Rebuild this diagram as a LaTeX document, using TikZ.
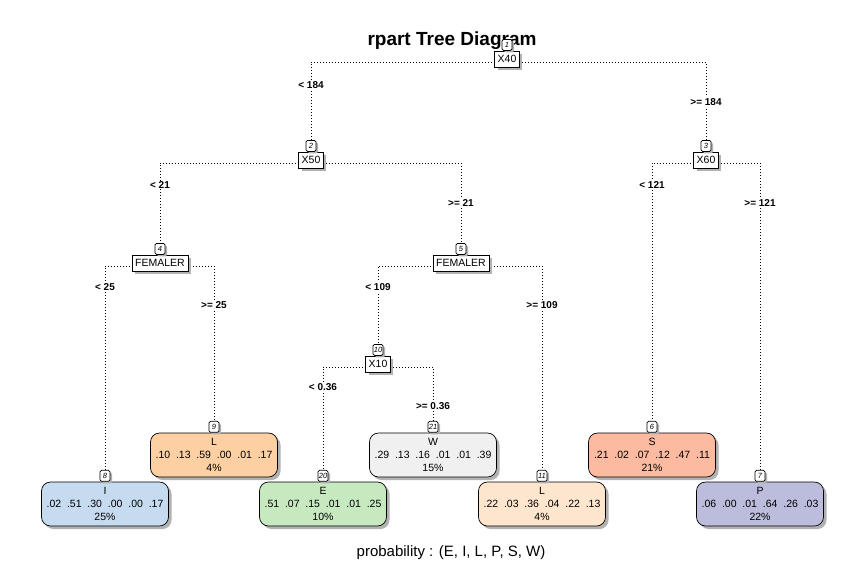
\documentclass[tikz,border=0pt]{standalone}
\usepackage{fontspec}
\setmainfont{Liberation Sans}
\usetikzlibrary{positioning, shadows, backgrounds}

\definecolor{leafI}{RGB}{198,219,239}
\definecolor{leafL}{RGB}{252,208,162}
\definecolor{leafLL}{RGB}{254,230,206}
\definecolor{leafE}{RGB}{199,233,192}
\definecolor{leafW}{RGB}{240,240,240}
\definecolor{leafS}{RGB}{252,187,161}
\definecolor{leafP}{RGB}{188,189,220}

\begin{document}
\begin{tikzpicture}[x=1pt, y=-1pt,
    shade/.style={drop shadow={shadow xshift=3pt, shadow yshift=-3pt, fill=black!30, opacity=1}},
    split/.style={draw, fill=white, shade, inner xsep=3pt, inner ysep=2pt, minimum height=16pt, font=\fontsize{10.5}{12}\selectfont},
    leaf/.style={draw, line width=0.7pt, shade, rounded corners=9pt, minimum width=127pt, minimum height=44pt, inner sep=1pt, align=center, font=\fontsize{10.5}{13}\selectfont},
    nid/.style={draw, line width=0.7pt, fill=white, drop shadow={shadow xshift=2pt, shadow yshift=-2pt, fill=black!30, opacity=1}, rounded corners=1.5pt, inner sep=0.5pt, minimum width=10pt, minimum height=11pt, font=\fontsize{7.5}{7.5}\selectfont\itshape},
    lbl/.style={fill=white, inner sep=1pt, font=\fontsize{10}{12}\selectfont\bfseries},
    edge/.style={line width=0.8pt, dash pattern=on 0.8pt off 2.2pt}]

\useasboundingbox (0,0) rectangle (866,565);

% title
\node[font=\fontsize{19}{22}\selectfont\bfseries] (title) at (452,41) {rpart Tree Diagram};

% split nodes
\node[split] (n1) at (507,59) {X40};
\node[split] (n2) at (311,160) {X50};
\node[split] (n3) at (706,160) {X60};
\node[split] (n4) at (160,263) {FEMALER};
\node[split] (n5) at (461,263) {FEMALER};
\node[split] (n10) at (378,364) {X10};

% leaves
\node[leaf, fill=leafL] (n9) at (214,455) {L\\.10\ \ .13\ \ .59\ \ .00\ \ .01\ \ .17\\4\%};
\node[leaf, fill=leafI] (n8) at (105,504) {I\\.02\ \ .51\ \ .30\ \ .00\ \ .00\ \ .17\\25\%};
\node[leaf, fill=leafE] (n20) at (323,504) {E\\.51\ \ .07\ \ .15\ \ .01\ \ .01\ \ .25\\10\%};
\node[leaf, fill=leafW] (n21) at (433,455) {W\\.29\ \ .13\ \ .16\ \ .01\ \ .01\ \ .39\\15\%};
\node[leaf, fill=leafLL] (n11) at (542,504) {L\\.22\ \ .03\ \ .36\ \ .04\ \ .22\ \ .13\\4\%};
\node[leaf, fill=leafS] (n6) at (652,455) {S\\.21\ \ .02\ \ .07\ \ .12\ \ .47\ \ .11\\21\%};
\node[leaf, fill=leafP] (n7) at (760,504) {P\\.06\ \ .00\ \ .01\ \ .64\ \ .26\ \ .03\\22\%};

% node numbers
\foreach \k in {1,2,3,4,5,6,7,8,9,10,11,20,21}
  \node[nid, above=0pt of n\k] (i\k) {\k};

% split labels
\node[lbl] (e2) at (311,85) {< 184};
\node[lbl] (e3) at (706,102) {>= 184};
\node[lbl] (e4) at (160,185) {< 21};
\node[lbl] (e5) at (461,203) {>= 21};
\node[lbl] (e6) at (652,185) {< 121};
\node[lbl] (e7) at (760,203) {>= 121};
\node[lbl] (e8) at (105,287) {< 25};
\node[lbl] (e9) at (214,305) {>= 25};
\node[lbl] (e10) at (378,287) {< 109};
\node[lbl] (e11) at (542,305) {>= 109};
\node[lbl] (e20) at (323,387) {< 0.36};
\node[lbl] (e21) at (433,406) {>= 0.36};

% footer
\node[font=\fontsize{15}{18}\selectfont] (foot) at (451,553) {probability : (E, I, L, P, S, W)};

% dotted connectors behind everything
\begin{scope}[on background layer]
\fill[white] (0,0) rectangle (866,565);
\foreach \a/\b in {1/2, 1/3, 2/4, 2/5, 3/6, 3/7, 4/8, 4/9, 5/10, 5/11, 10/20, 10/21}
  \draw[edge] ([yshift=-3pt]n\a.center) -| (i\b.north);
\end{scope}
\end{tikzpicture}
\end{document}
